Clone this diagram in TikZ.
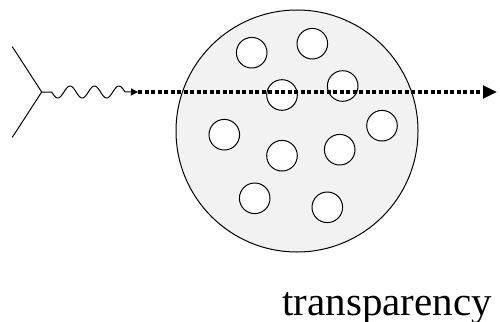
\documentclass[tikz,border=0pt]{standalone}
\usepackage{fontspec}
\setmainfont{Liberation Serif}
\newfontfamily\labfont{Liberation Serif}
\usetikzlibrary{arrows.meta}
\definecolor{fillgray}{HTML}{F2F2F2}
\tikzset{
  thinline/.style={line width=1pt, black},
  grain/.style={circle, draw=black, line width=1pt, fill=white, minimum size=30.6pt, inner sep=0pt},
  photon/.style={line width=1pt, line join=round, -{Triangle[length=7pt,width=7pt]}},
  beam/.style={line width=3.3pt, dash pattern=on 4pt off 2.5pt, -{Triangle[length=14pt,width=12.5pt]}},
}
\begin{document}
\begin{tikzpicture}[x=1pt,y=1pt]
\useasboundingbox (0,0) rectangle (500,-321);
% coordinates
\coordinate (v) at (41.7,-92);
\coordinate (fa) at (12.3,-46.7);
\coordinate (fb) at (12.3,-137.3);
\coordinate (ws) at (51.7,-92);
\coordinate (pe) at (138,-92);
\coordinate (be) at (497,-92);
% big medium
\node[circle, draw=black, line width=1pt, fill=fillgray, minimum size=242pt, inner sep=0pt] (med) at (297,-131) {};
% grains
\node[grain] (g1) at (251.7,-52.7) {};
\node[grain] (g2) at (312.3,-43.7) {};
\node[grain] (g3) at (282,-95) {};
\node[grain] (g4) at (342.7,-86) {};
\node[grain] (g5) at (224.3,-134.7) {};
\node[grain] (g6) at (382,-125.7) {};
\node[grain] (g7) at (282,-155.7) {};
\node[grain] (g8) at (339.7,-149.7) {};
\node[grain] (g9) at (254.7,-198.3) {};
\node[grain] (g10) at (327.3,-207.3) {};
% fermion lines
\draw[thinline] (fa) -- (v) -- (fb);
% photon
\draw[photon] (v) -- (ws) -- plot[domain=0:3, samples=121, smooth] ({51.7+24.43*\x},{-92-6*sin(360*\x)}) -- (pe);
% beam
\draw[beam] (pe) -- (be);
% label
\node[anchor=base, font=\labfont\fontsize{41}{45}\selectfont, inner sep=0pt] (lab) at (387.2,-315.5) {transparency};
\end{tikzpicture}
\end{document}
